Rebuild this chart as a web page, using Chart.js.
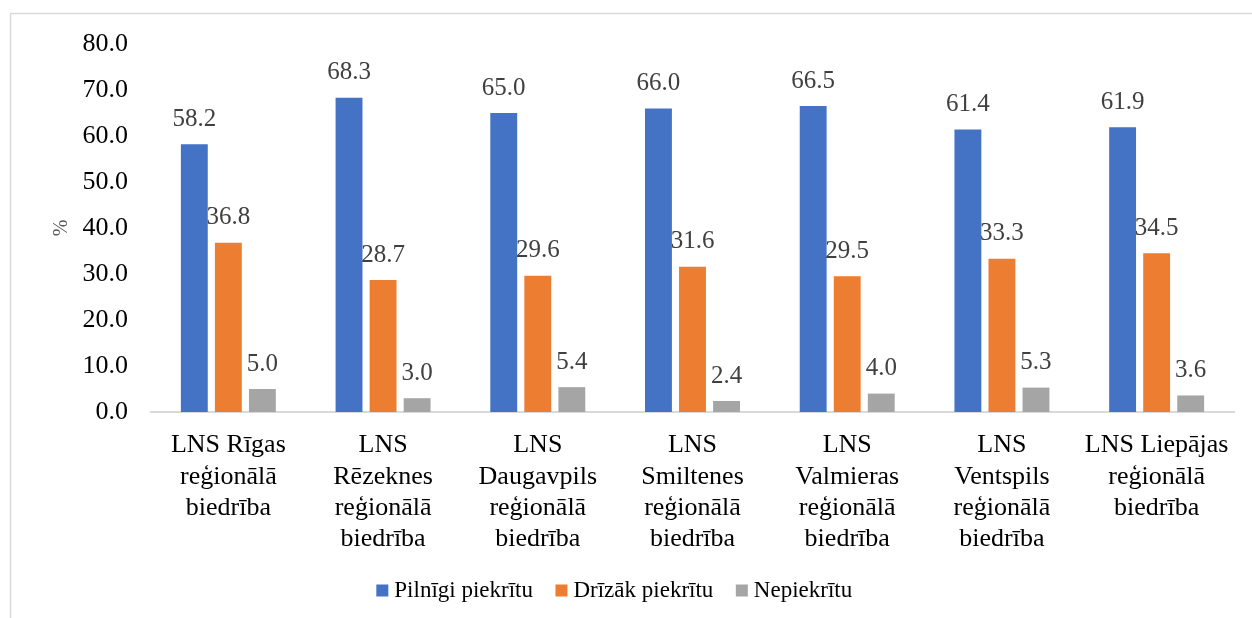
<!DOCTYPE html>
<html lang="lv">
<head>
  <meta charset="UTF-8">
  <title>LNS reģionālās biedrības</title>
  <style>
    body {
      margin: 0;
      padding: 0;
      background: #fff;
    }
    #wrap {
      width: 1252px;
      height: 618px;
    }
  </style>
</head>
<body>

<div id="wrap"><canvas id="chart" width="1252" height="618"></canvas></div>

<script src="https://cdn.jsdelivr.net/npm/chart.js"></script>

<script>
  // Chart data
  var categories = [
    ['LNS Rīgas', 'reģionālā', 'biedrība'],
    ['LNS', 'Rēzeknes', 'reģionālā', 'biedrība'],
    ['LNS', 'Daugavpils', 'reģionālā', 'biedrība'],
    ['LNS', 'Smiltenes', 'reģionālā', 'biedrība'],
    ['LNS', 'Valmieras', 'reģionālā', 'biedrība'],
    ['LNS', 'Ventspils', 'reģionālā', 'biedrība'],
    ['LNS Liepājas', 'reģionālā', 'biedrība']
  ];
  var seriesNames = ['Pilnīgi piekrītu', 'Drīzāk piekrītu', 'Nepiekrītu'];
  var fullyAgree = [58.2, 68.3, 65.0, 66.0, 66.5, 61.4, 61.9];
  var ratherAgree = [36.8, 28.7, 29.6, 31.6, 29.5, 33.3, 34.5];
  var disagree = [5.0, 3.0, 5.4, 2.4, 4.0, 5.3, 3.6];
  var yTicks = [0, 10, 20, 30, 40, 50, 60, 70, 80];

  var colors = ['#4472C4', '#ED7D31', '#A5A5A5'];
  var serif = 'Liberation Serif';

  Chart.defaults.font.family = serif;

  // draws the value above every bar
  var valueLabels = {
    id: 'valueLabels',
    afterDatasetsDraw: function(chart) {
      var ctx = chart.ctx;
      ctx.save();
      ctx.font = '25px "Liberation Serif"';
      ctx.fillStyle = '#404040';
      ctx.textAlign = 'center';
      ctx.textBaseline = 'middle';
      chart.data.datasets.forEach(function(ds, i) {
        chart.getDatasetMeta(i).data.forEach(function(bar, j) {
          ctx.fillText(ds.data[j].toFixed(1), bar.x, bar.y - 25);
        });
      });
      ctx.restore();
    }
  };

  // light frame around the chart, like the office export
  var frame = {
    id: 'frame',
    beforeDraw: function(chart) {
      var ctx = chart.ctx;
      ctx.save();
      ctx.strokeStyle = '#d9d9d9';
      ctx.lineWidth = 1.5;
      ctx.strokeRect(10.5, 13.5, 1400, 800);
      ctx.restore();
    }
  };

  var ctx = document.getElementById('chart').getContext('2d');
  new Chart(ctx, {
    type: 'bar',
    data: {
      labels: categories,
      datasets: [
        { label: seriesNames[0], data: fullyAgree, backgroundColor: colors[0] },
        { label: seriesNames[1], data: ratherAgree, backgroundColor: colors[1] },
        { label: seriesNames[2], data: disagree, backgroundColor: colors[2] }
      ]
    },
    options: {
      responsive: false,
      animation: false,
      categoryPercentage: 0.66,
      barPercentage: 0.79,
      layout: {
        padding: { top: 44, right: 18, bottom: 6, left: 0 }
      },
      scales: {
        x: {
          grid: { display: false, drawTicks: false },
          border: { color: '#d9d9d9', width: 2 },
          ticks: {
            color: '#000',
            font: { family: serif, size: 26 },
            padding: 18,
            maxRotation: 0,
            autoSkip: false
          },
          afterFit: function(scale) { scale.height = 139; }
        },
        y: {
          min: 0,
          max: 80,
          afterBuildTicks: function(scale) {
            scale.ticks = yTicks.map(function(v) { return { value: v }; });
          },
          grid: { display: false, drawTicks: false },
          border: { display: false },
          ticks: {
            color: '#000',
            font: { family: serif, size: 26 },
            padding: 23,
            callback: function(v) { return Number(v).toFixed(1); }
          },
          title: {
            display: true,
            text: '%',
            color: '#595959',
            font: { family: serif, size: 20 },
            padding: { top: 50, bottom: 0 }
          },
          afterFit: function(scale) { scale.width = 151; }
        }
      },
      plugins: {
        legend: {
          position: 'bottom',
          labels: {
            color: '#000',
            font: { family: serif, size: 23 },
            usePointStyle: true,
            pointStyle: 'rect',
            boxWidth: 1,
            boxHeight: 12,
            padding: 28
          }
        },
        tooltip: { enabled: false }
      }
    },
    plugins: [frame, valueLabels]
  });
</script>

</body>
</html>
